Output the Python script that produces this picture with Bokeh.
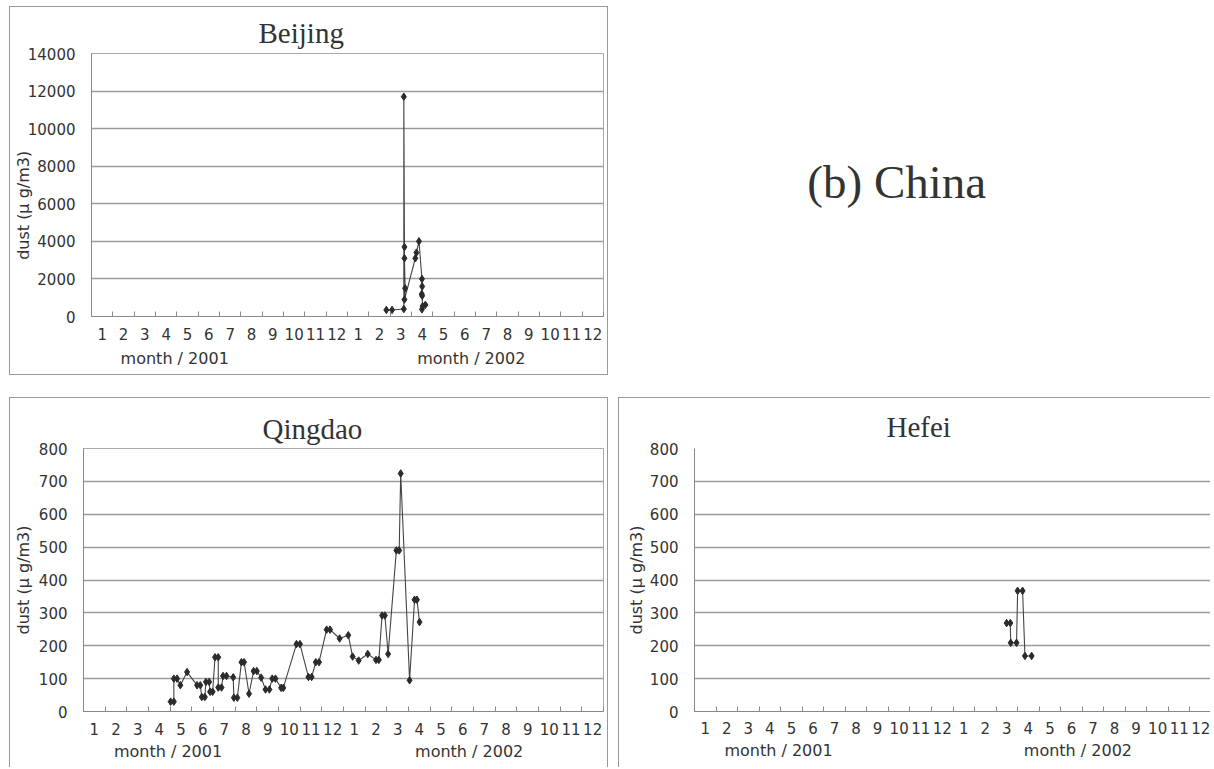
from bokeh.plotting import figure
from bokeh.models import Range1d, FixedTicker, Spacer, LinearAxis
from bokeh.layouts import row, column
from bokeh.core.properties import value
from bokeh.embed import file_html
from bokeh.resources import INLINE

# ---------------- data (x = month position, 0 = start of Jan 2001) ----------------
month_labels = ["1", "2", "3", "4", "5", "6", "7", "8", "9", "10", "11", "12",
                "1", "2", "3", "4", "5", "6", "7", "8", "9", "10", "11", "12"]
year_labels = ["month / 2001", "month / 2002"]
year_label_month = [3.9, 17.8]

beijing_month = [13.82, 14.09, 14.64, 14.64, 14.67, 14.67, 14.70, 14.67, 15.18,
                 15.23, 15.35, 15.49, 15.50, 15.48, 15.50, 15.52, 15.49, 15.65]
beijing_dust = [350, 350, 400, 11700, 3700, 3100, 1500, 900, 3100,
                3400, 4000, 2000, 1600, 1200, 1100, 550, 380, 620]

qingdao_month = [4.02, 4.17, 4.17, 4.32, 4.47, 4.78, 5.24, 5.39, 5.46, 5.60,
                 5.65, 5.80, 5.84, 5.96, 6.07, 6.22, 6.22, 6.37, 6.44, 6.60,
                 6.91, 6.94, 7.10, 7.29, 7.41, 7.64, 7.85, 8.00, 8.20, 8.40,
                 8.58, 8.71, 8.86, 9.12, 9.22, 9.83, 9.99, 10.38, 10.53, 10.72,
                 10.87, 11.22, 11.38, 11.82, 12.22, 12.42, 12.70, 13.12, 13.50, 13.63,
                 13.78, 13.91, 14.06, 14.44, 14.57, 14.64, 15.05, 15.28, 15.39, 15.51]
qingdao_dust = [30, 30, 100, 100, 80, 120, 80, 80, 44, 44,
                90, 90, 60, 60, 165, 165, 73, 73, 108, 108,
                104, 42, 42, 150, 150, 54, 123, 123, 103, 67,
                67, 100, 100, 72, 72, 205, 205, 105, 105, 150,
                150, 249, 249, 222, 232, 167, 155, 175, 157, 157,
                292, 292, 175, 490, 490, 724, 95, 340, 340, 272]

hefei_month = [14.49, 14.66, 14.68, 14.95, 15.00, 15.23, 15.34, 15.65]
hefei_dust = [269, 269, 209, 209, 367, 367, 169, 169]

Y_LABEL = "dust (\u03bc g/m3)"
TICK_FONT = "DejaVu Sans"
TEXT_COL = "#333333"


def make_panel(title, xs, ys, ymax, ystep, width, height, borders, title_offset,
               title_standoff, ylabel, ylabel_standoff, tick_standoff, year_standoff, css):
    p = figure(width=width, height=height, toolbar_location=None, output_backend="svg",
               x_range=Range1d(0, 24), y_range=Range1d(0, ymax),
               min_border_left=borders[0], min_border_right=borders[1],
               min_border_top=borders[2], min_border_bottom=borders[3],
               title=title, styles=css)
    p.title.align = "left"
    p.title.offset = title_offset
    p.title.standoff = title_standoff
    p.title.text_font = "Liberation Serif"
    p.title.text_font_size = "29px"
    p.title.text_font_style = "normal"
    p.title.text_color = TEXT_COL

    p.outline_line_color = "#aaaaaa"
    p.background_fill_color = "white"
    p.border_fill_color = "white"

    # x axis: month labels centred between month tick marks
    p.xaxis.ticker = FixedTicker(ticks=[i + 0.5 for i in range(len(month_labels))],
                                 minor_ticks=list(range(len(month_labels) + 1)))
    p.xaxis.major_label_overrides = {i + 0.5: lab for i, lab in enumerate(month_labels)}
    p.xaxis.major_tick_line_color = None
    p.xaxis.major_tick_in = 0
    p.xaxis.major_tick_out = 0
    p.xaxis.minor_tick_line_color = "#888888"
    p.xaxis.minor_tick_in = 5
    p.xaxis.minor_tick_out = 0
    p.xaxis.axis_line_color = "#888888"
    p.xaxis.major_label_standoff = tick_standoff
    p.xaxis.major_label_text_font = TICK_FONT
    p.xaxis.major_label_text_font_size = "15px"
    p.xaxis.major_label_text_color = TEXT_COL

    # second row of x labels: "month / year"
    year_axis = LinearAxis(ticker=FixedTicker(ticks=year_label_month),
                           major_label_overrides={m: lab for m, lab in
                                                  zip(year_label_month, year_labels)},
                           axis_line_color=None, major_tick_line_color=None,
                           minor_tick_line_color=None, major_tick_in=0, major_tick_out=0,
                           major_label_standoff=year_standoff,
                           major_label_text_font=TICK_FONT,
                           major_label_text_font_size="16px",
                           major_label_text_color=TEXT_COL)
    p.add_layout(year_axis, "below")

    # y axis
    p.yaxis.ticker = FixedTicker(ticks=list(range(0, ymax + 1, ystep)))
    p.yaxis.major_tick_line_color = None
    p.yaxis.minor_tick_line_color = None
    p.yaxis.major_tick_in = 0
    p.yaxis.major_tick_out = 0
    p.yaxis.axis_line_color = "#888888"
    p.yaxis.major_label_standoff = 16
    p.yaxis.major_label_text_font = TICK_FONT
    p.yaxis.major_label_text_font_size = "15px"
    p.yaxis.major_label_text_color = TEXT_COL
    p.yaxis.axis_label = ylabel
    p.yaxis.axis_label_text_font = TICK_FONT
    p.yaxis.axis_label_text_font_size = "16px"
    p.yaxis.axis_label_text_font_style = "normal"
    p.yaxis.axis_label_text_color = TEXT_COL
    p.yaxis.axis_label_standoff = ylabel_standoff

    p.xgrid.visible = False
    p.ygrid.grid_line_color = "#9a9a9a"
    p.ygrid.grid_line_width = 1.5

    p.line(xs, ys, line_color="#444444", line_width=1.1)
    p.scatter(xs, ys, marker="diamond", size=7.5, fill_color="#2b2b2b",
              line_color="#2b2b2b")
    return p


beijing = make_panel("Beijing", beijing_month, beijing_dust, 14000, 2000,
                     599, 369, (81, 6, 46, 60), 167, 9,
                     Y_LABEL + "\u00a0" * 8, -8, 11, 6,
                     {"border": "1px solid #999999"})

qingdao = make_panel("Qingdao", qingdao_month, qingdao_dust, 800, 100,
                     599, 370, (72, 6, 47, 57), 179, 7, Y_LABEL, 3, 11, 4,
                     {"border-top": "1px solid #999999", "border-left": "1px solid #999999",
                      "border-right": "1px solid #999999"})

hefei = make_panel("Hefei", hefei_month, hefei_dust, 800, 100,
                   592, 370, (75, 0, 50, 54), 192, 12, Y_LABEL, 1, 10, 4,
                   {"border-top": "1px solid #999999", "border-left": "1px solid #999999"})
hefei.outline_line_color = None

china = figure(width=603, height=371, toolbar_location=None, output_backend="svg",
               x_range=Range1d(0, 1), y_range=Range1d(0, 1), min_border=0,
               x_axis_type=None, y_axis_type=None)
china.grid.visible = False
china.outline_line_color = None
china.text(x=[0.478], y=[0.51], text=["(b) China"], text_align="center",
           text_baseline="middle", text_font=value("Liberation Serif"),
           text_font_size="47px", text_color=TEXT_COL)

layout = column(Spacer(height=6),
                row(Spacer(width=9), beijing, china),
                Spacer(height=20),
                row(Spacer(width=9), qingdao, Spacer(width=10), hefei))

open("out.html", "w").write(file_html(layout, INLINE))
